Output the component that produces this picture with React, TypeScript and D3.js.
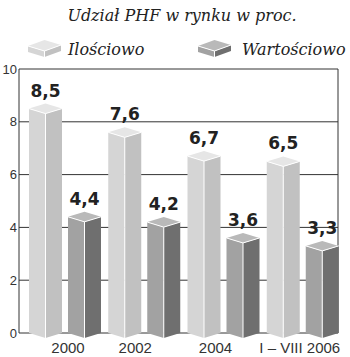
import React from "react";
import * as d3 from "d3";

const categories = ["2000", "2002", "2004", "I – VIII 2006"];
const ilosciowo = [8.5, 7.6, 6.7, 6.5];
const wartosciowo = [4.4, 4.2, 3.6, 3.3];
const yTicks = [0, 2, 4, 6, 8, 10];
const seriesNames = ["Ilościowo", "Wartościowo"];
const title = "Udział PHF w rynku w proc.";

const W = 350;
const H = 357;
const plotLeft = 19;
const plotRight = 338;
const plotTop = 69;
const plotBottom = 333;
const barW = 33;
const depth = 5;
const labelDx = [39, 27, 28, 33];

const palettes = [
  { left: "#d5d5d5", right: "#c1c1c1", top: "#e6e6e6" },
  { left: "#a2a2a2", right: "#6f6f6f", top: "#b9b9b9" },
];

function Bar({ x0, value, y, pal }: any) {
  const vy = y(value);
  const y0 = y(0);
  const xm = x0 + barW / 2;
  const x1 = x0 + barW;
  const pts = (a: number[][]) => a.map((p) => p.join(",")).join(" ");
  return (
    <g>
      <polygon points={pts([[x0, vy], [xm, vy + depth], [xm, y0 + depth], [x0, y0]])} fill={pal.left} />
      <polygon points={pts([[xm, vy + depth], [x1, vy], [x1, y0], [xm, y0 + depth]])} fill={pal.right} />
      <polygon points={pts([[x0, vy], [xm, vy - depth], [x1, vy], [xm, vy + depth]])} fill={pal.top} />
      <polyline points={pts([[x0, vy], [xm, vy + depth], [x1, vy]])} fill="none" stroke="#fff" strokeWidth={1} />
      <line x1={xm} x2={xm} y1={vy + depth} y2={y0 + depth} stroke="#fff" strokeWidth={1} />
    </g>
  );
}

function LegendBox({ x0, yTop, pal }: any) {
  const w = 33;
  const xm = x0 + w / 2;
  const x1 = x0 + w;
  const h = 6;
  const pts = (a: number[][]) => a.map((p) => p.join(",")).join(" ");
  const l = yTop + 6, f = yTop + 11, r = yTop + 5, b = yTop;
  return (
    <g>
      <polygon points={pts([[x0, l], [xm, f], [xm, f + h], [x0, l + h]])} fill={pal.left} />
      <polygon points={pts([[xm, f], [x1, r], [x1, r + h], [xm, f + h]])} fill={pal.right} />
      <polygon points={pts([[x0, l], [xm, b], [x1, r], [xm, f]])} fill={pal.top} />
      <polyline points={pts([[x0, l], [xm, f], [x1, r]])} fill="none" stroke="#fff" strokeWidth={1} />
      <line x1={xm} x2={xm} y1={f} y2={f + h} stroke="#fff" strokeWidth={1} />
    </g>
  );
}

export default function App() {
  const y = d3.scaleLinear().domain([0, 10]).range([plotBottom, plotTop]);
  const x = d3.scaleBand().domain(categories).range([29, 346]).paddingInner(0).paddingOuter(0);
  const series = [ilosciowo, wartosciowo];
  const serif = "'DejaVu Serif', serif";
  const sans = "'Liberation Sans', Arial, sans-serif";
  const bold = "'DejaVu Sans', sans-serif";
  return (
    <svg width={W} height={H} style={{ position: "absolute", left: 0, top: 0, background: "#fff" }}>
      <text x={182} y={21} textAnchor="middle" fontFamily={serif} fontStyle="italic" fontSize={16} fill="#222">
        {title}
      </text>
      <LegendBox x0={28} yTop={40} pal={palettes[0]} />
      <text x={68} y={55} fontFamily={serif} fontStyle="italic" fontSize={16} fill="#222">{seriesNames[0]}</text>
      <LegendBox x0={198} yTop={40} pal={palettes[1]} />
      <text x={242} y={55} fontFamily={serif} fontStyle="italic" fontSize={16} fill="#222">{seriesNames[1]}</text>

      {yTicks.map((t) => (
        <g key={t}>
          <line x1={plotLeft} x2={plotRight} y1={y(t)} y2={y(t)} stroke="#333" strokeWidth={1} />
          <text x={17} y={y(t) + 4.5} textAnchor="end" fontFamily={sans} fontSize={13} fill="#333">{t}</text>
        </g>
      ))}
      <line x1={plotLeft} x2={plotLeft} y1={plotTop} y2={plotBottom} stroke="#333" strokeWidth={1} />
      <line x1={plotRight} x2={plotRight} y1={plotTop} y2={plotBottom} stroke="#333" strokeWidth={1} />

      {categories.map((c, i) => (
        <g key={c}>
          {series.map((s, si) => {
            const x0 = (x(c) as number) + si * 39;
            return (
              <g key={si}>
                <Bar x0={x0} value={s[i]} y={y} pal={palettes[si]} />
                <text x={x0 + barW / 2} y={y(s[i]) - 12} textAnchor="middle" fontFamily={bold} fontWeight="bold" fontSize={17} fill="#222">
                  {String(s[i]).replace(".", ",")}
                </text>
              </g>
            );
          })}
          <text x={(x(c) as number) + labelDx[i]} y={353} textAnchor="middle" fontFamily={sans} fontSize={15} fill="#333">{c}</text>
        </g>
      ))}
    </svg>
  );
}
